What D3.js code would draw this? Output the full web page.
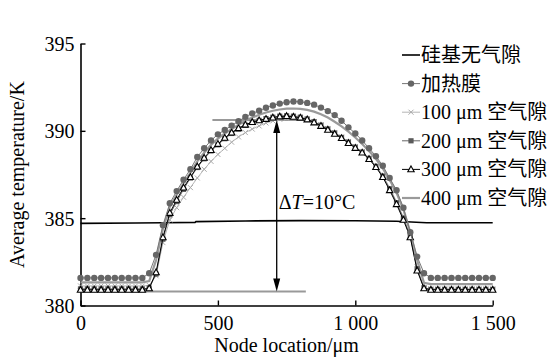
<!DOCTYPE html>
<html><head><meta charset="utf-8">
<script src="https://cdn.jsdelivr.net/npm/d3@7"></script>
<style>body{margin:0;background:#fff}svg{display:block}</style>
</head><body><svg id="c" width="557" height="362"></svg>
<script>
// ---- data ----
const nodeX = [0,25,50,75,100,125,150,175,200,225,250,275,300,325,350,375,400,425,450,475,500,525,550,575,600,625,650,675,700,725,750,775,800,825,850,875,900,925,950,975,1000,1025,1050,1075,1100,1125,1150,1175,1200,1225,1250,1275,1300,1325,1350,1375,1400,1425,1450,1475,1500];
const siX = [0,200,300,417,420,600,800,1000,1150,1240,1260,1500];
const siNoGap = [384.7,384.72,384.74,384.76,384.8,384.84,384.86,384.85,384.82,384.75,384.74,384.74];
const heatFilm = [381.58,381.58,381.58,381.58,381.58,381.58,381.58,381.58,381.58,381.58,
 381.85,382.9,384.6,385.85,386.55,387.2,387.8,388.5,389.0,389.45,
 389.8,390.05,390.3,390.55,390.8,391.0,391.15,391.32,391.45,391.56,
 391.64,391.68,391.66,391.6,391.5,391.33,391.13,390.9,390.58,390.2,
 389.85,389.45,389.0,388.55,388.0,387.3,386.6,385.6,384.2,382.8,381.85,
 381.58,381.58,381.58,381.58,381.58,381.58,381.58,381.58,381.58,381.58];
const gap100 = [381.12,381.12,381.12,381.12,381.12,381.12,381.12,381.12,381.12,381.12,
 381.15,381.7,383.6,384.9,385.6,386.2,386.75,387.3,387.8,388.25,
 388.65,389.0,389.35,389.65,389.9,390.1,390.28,390.45,390.57,390.66,
 390.72,390.74,390.72,390.66,390.52,390.34,390.12,389.9,389.65,389.38,
 389.1,388.8,388.45,388.0,387.45,386.75,385.95,385.05,384.0,382.2,381.0,
 380.95,380.95,380.95,380.95,380.95,380.95,380.95,380.95,380.95,380.95];
const gap200 = [380.95,380.95,380.95,380.95,380.95,380.95,380.95,380.95,380.95,380.95,
 381.0,381.8,383.8,385.2,385.95,386.65,387.3,387.9,388.4,388.85,
 389.2,389.55,389.85,390.1,390.32,390.48,390.6,390.7,390.78,390.84,
 390.86,390.84,390.78,390.68,390.52,390.32,390.1,389.87,389.62,389.35,
 389.06,388.78,388.42,387.96,387.4,386.68,385.88,385.0,383.95,382.1,381.0,
 380.92,380.92,380.92,380.92,380.92,380.92,380.92,380.92,380.92,380.92];
const gap300 = [380.9,380.9,380.9,380.9,380.9,380.9,380.9,380.9,380.9,380.9,
 380.98,381.9,383.9,385.3,386.05,386.75,387.35,387.95,388.45,388.9,
 389.25,389.6,389.9,390.15,390.35,390.5,390.6,390.68,390.76,390.82,
 390.84,390.8,390.75,390.65,390.48,390.28,390.06,389.83,389.58,389.3,
 389.02,388.75,388.38,387.92,387.35,386.6,385.8,384.9,383.9,382.0,380.98,
 380.9,380.9,380.9,380.9,380.9,380.9,380.9,380.9,380.9,380.9];
const gap400 = [381.32,381.32,381.32,381.32,381.32,381.32,381.32,381.32,381.32,381.32,
 381.4,382.6,384.4,385.65,386.35,387.0,387.6,388.25,388.75,389.2,
 389.55,389.85,390.1,390.35,390.58,390.76,390.92,391.05,391.15,391.22,
 391.27,391.28,391.26,391.2,391.1,390.95,390.76,390.52,390.25,389.95,
 389.62,389.25,388.85,388.4,387.85,387.2,386.45,385.5,384.2,382.6,381.3,
 381.22,381.22,381.22,381.22,381.22,381.22,381.22,381.22,381.22,381.22];
const legendLabels = ["硅基无气隙","加热膜","100 μm 空气隙","200 μm 空气隙","300 μm 空气隙","400 μm 空气隙"];
const xTicks = [0,500,1000,1500];
const xTickLabels = ["0","500","1 000","1 500"];
const yTicks = [380,385,390,395];
const refLow = 380.8, refHigh = 390.62;
const refLowRange = [0,820], refHighRange = [480,820];
const arrowX = 714;
const deltaLabel = "10°C";

// ---- layout ----
const svg = d3.select("#c");
const m = {l:80.5, r:64.3, t:43.5, b:56.5};
const W = 557, H = 362;
const x = d3.scaleLinear().domain([0,1500]).range([m.l, W-m.r]);
const y = d3.scaleLinear().domain([380,395]).range([H-m.b, m.t]);
const serif = "'Liberation Serif','Times New Roman',serif";
const cjk = "'Liberation Serif','Noto Sans CJK SC',serif";

// axes
const gx = svg.append("g").attr("transform",`translate(0,${y(380)})`)
  .call(d3.axisBottom(x).tickValues(xTicks).tickSizeInner(-5).tickSizeOuter(0).tickPadding(12)
    .tickFormat((d,i)=>xTickLabels[i]));
const gy = svg.append("g").attr("transform",`translate(${x(0)},0)`)
  .call(d3.axisLeft(y).tickValues(yTicks).tickSizeInner(-5).tickSizeOuter(0).tickPadding(6));
[gx,gy].forEach(g=>{
  g.selectAll("path").attr("stroke","#000").attr("stroke-width",1.6);
  g.selectAll("line").attr("stroke","#000").attr("stroke-width",1.4);
  g.selectAll("text").attr("font-family",serif).attr("font-size",20).attr("fill","#000");
});
gy.selectAll("text").attr("dy","0.35em");
gx.selectAll("text").attr("dy","0.62em");

svg.append("text").attr("x",(x(0)+x(1500))/2).attr("y",352).attr("text-anchor","middle")
  .attr("font-family",serif).attr("font-size",20).text("Node location/μm");
svg.append("text").attr("transform",`translate(24,${(y(380)+y(395))/2}) rotate(-90)`)
  .attr("text-anchor","middle").attr("font-family",serif).attr("font-size",20).text("Average temperature/K");

// reference lines
svg.append("line").attr("x1",x(refLowRange[0])).attr("x2",x(refLowRange[1])).attr("y1",y(refLow)).attr("y2",y(refLow))
  .attr("stroke","#999").attr("stroke-width",2);
svg.append("line").attr("x1",x(refHighRange[0])).attr("x2",x(refHighRange[1])).attr("y1",y(refHigh)).attr("y2",y(refHigh))
  .attr("stroke","#999").attr("stroke-width",2);

// series
const line = d3.line().x(d=>x(d[0])).y(d=>y(d[1]));
const zip = (xs,vs)=>xs.map((v,i)=>[v,vs[i]]);
svg.append("path").datum(zip(siX,siNoGap)).attr("d",line).attr("fill","none").attr("stroke","#000").attr("stroke-width",1.6);
svg.append("path").datum(zip(nodeX,gap400)).attr("d",line).attr("fill","none").attr("stroke","#9a9a9a").attr("stroke-width",2.2);

function series(vals,color,width,marker){
  const d = zip(nodeX,vals);
  svg.append("path").datum(d).attr("d",line).attr("fill","none").attr("stroke",color).attr("stroke-width",width);
  const g = svg.append("g");
  d.forEach(p=>marker(g,x(p[0]),y(p[1])));
}
const mkX = (g,cx,cy)=>{g.append("path").attr("d",`M${cx-2.5},${cy-2.5}L${cx+2.5},${cy+2.5}M${cx-2.5},${cy+2.5}L${cx+2.5},${cy-2.5}`).attr("stroke","#aaa").attr("stroke-width",1);};
const mkSq = (g,cx,cy)=>{g.append("rect").attr("x",cx-2.6).attr("y",cy-2.6).attr("width",5.2).attr("height",5.2).attr("fill","#5a5a5a");};
const mkTri = (g,cx,cy)=>{g.append("path").attr("d",`M${cx},${cy-3.4}L${cx+3.2},${cy+2.4}L${cx-3.2},${cy+2.4}Z`).attr("fill","#fff").attr("stroke","#000").attr("stroke-width",1.1);};
const mkC = (g,cx,cy)=>{g.append("circle").attr("cx",cx).attr("cy",cy).attr("r",3.2).attr("fill","#666");};

series(gap100,"#b5b5b5",1,mkX);
series(gap200,"#666",1,mkSq);
series(gap300,"#000",1,mkTri);
series(heatFilm,"#777",1,mkC);

// arrow
const ay1 = y(refHigh), ay2 = y(refLow), ax = x(arrowX);
svg.append("line").attr("x1",ax).attr("x2",ax).attr("y1",ay1+10).attr("y2",ay2-10).attr("stroke","#000").attr("stroke-width",1.3);
svg.append("path").attr("d",`M${ax},${ay1}L${ax+3.5},${ay1+13}L${ax-3.5},${ay1+13}Z`).attr("fill","#000");
svg.append("path").attr("d",`M${ax},${ay2}L${ax+3.5},${ay2-13}L${ax-3.5},${ay2-13}Z`).attr("fill","#000");
const dt = svg.append("text").attr("x",ax+2).attr("y",y(385.5)).attr("font-family",serif).attr("font-size",20);
dt.append("tspan").text("Δ");
dt.append("tspan").attr("font-style","italic").text("T");
dt.append("tspan").text("=" + deltaLabel);

// legend
const lx0 = 402, lx1 = 420, ly0 = 55, ldy = 28.6;
const legendStyles = [
  {c:"#000",w:1.6,m:null},{c:"#777",w:1,m:mkC},{c:"#b5b5b5",w:1,m:mkX},
  {c:"#666",w:1,m:mkSq},{c:"#000",w:1,m:mkTri},{c:"#9a9a9a",w:2.2,m:null}];
legendLabels.forEach((lab,i)=>{
  const yy = ly0 + i*ldy, s = legendStyles[i];
  svg.append("line").attr("x1",lx0).attr("x2",lx1).attr("y1",yy).attr("y2",yy).attr("stroke",s.c).attr("stroke-width",s.w);
  if (s.m) s.m(svg,(lx0+lx1)/2,yy);
  svg.append("text").attr("x",lx1+1).attr("y",yy+7).attr("font-family",cjk).attr("font-size",20).text(lab);
});
</script></body></html>
